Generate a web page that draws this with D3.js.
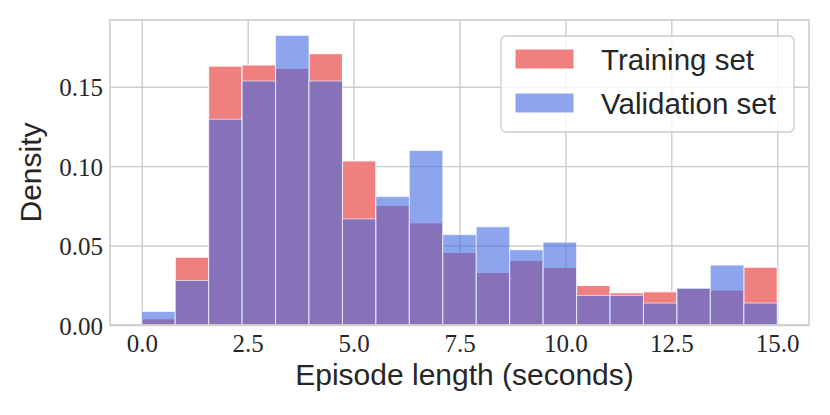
<!DOCTYPE html>
<meta charset="utf-8">
<script src="https://d3js.org/d3.v7.min.js"></script>
<style>
  body { margin: 0; background: #fff; }
</style>
<div id="chart"></div>
<script>

// bin edges (19 equal bins from 0 to 15 s)
var binEdges = [0, 0.789, 1.579, 2.368, 3.158, 3.947, 4.737, 5.526, 6.316, 7.105,
                7.895, 8.684, 9.474, 10.263, 11.053, 11.842, 12.632, 13.421, 14.211, 15.0];
// density per bin
var trainDensity = [0.0039, 0.0427, 0.1630, 0.1637, 0.1616, 0.1708, 0.1033, 0.0752, 0.0643, 0.0456,
                    0.0330, 0.0406, 0.0362, 0.0249, 0.0203, 0.0209, 0.0230, 0.0220, 0.0364];
var validDensity = [0.0085, 0.0280, 0.1295, 0.1536, 0.1823, 0.1536, 0.0668, 0.0808, 0.1098, 0.0569,
                    0.0618, 0.0473, 0.0521, 0.0186, 0.0186, 0.0138, 0.0232, 0.0377, 0.0138];
var xTicks = [0, 2.5, 5, 7.5, 10, 12.5, 15];
var yTicks = [0, 0.05, 0.10, 0.15];
var seriesNames = ["Training set", "Validation set"];

var W = 830, H = 415;
var plotL = 110, plotR = 809, plotT = 20, plotB = 325;

var svg = d3.select("#chart").append("svg")
  .attr("width", W)
  .attr("height", H);

var x = d3.scaleLinear().domain([-0.75, 15.75]).range([plotL, plotR]);
var y = d3.scaleLinear().domain([0, 0.192]).range([plotB, plotT]);

var gridColor = "#cccccc";
var sans = "'Liberation Sans', Arial, Helvetica, sans-serif";
var serif = "'Liberation Serif', 'Times New Roman', serif";

// grid lines
svg.append("g")
  .attr("transform", "translate(0," + plotB + ")")
  .call(d3.axisBottom(x).tickValues(xTicks).tickSize(-(plotB - plotT)).tickFormat(""))
  .call(function(g) {
    g.select(".domain").remove();
    g.selectAll("line").attr("stroke", gridColor).attr("stroke-width", 1.4);
  });
svg.append("g")
  .attr("transform", "translate(" + plotL + ",0)")
  .call(d3.axisLeft(y).tickValues(yTicks).tickSize(-(plotR - plotL)).tickFormat(""))
  .call(function(g) {
    g.select(".domain").remove();
    g.selectAll("line").attr("stroke", gridColor).attr("stroke-width", 1.4);
  });

// bars
var bins = d3.range(trainDensity.length);

svg.append("g").selectAll("rect")
  .data(bins)
  .enter().append("rect")
    .attr("x", function(i) { return x(binEdges[i]); })
    .attr("width", function(i) { return x(binEdges[i + 1]) - x(binEdges[i]); })
    .attr("y", function(i) { return y(trainDensity[i]); })
    .attr("height", function(i) { return y(0) - y(trainDensity[i]); })
    .attr("fill", "#f08080")
    .attr("stroke", "#ffffff")
    .attr("stroke-width", 1);

svg.append("g").selectAll("rect")
  .data(bins)
  .enter().append("rect")
    .attr("x", function(i) { return x(binEdges[i]); })
    .attr("width", function(i) { return x(binEdges[i + 1]) - x(binEdges[i]); })
    .attr("y", function(i) { return y(validDensity[i]); })
    .attr("height", function(i) { return y(0) - y(validDensity[i]); })
    .attr("fill", "rgb(65,105,225)")
    .attr("fill-opacity", 0.6)
    .attr("stroke", "#ffffff")
    .attr("stroke-opacity", 0.6)
    .attr("stroke-width", 1);

// frame
svg.append("rect")
  .attr("x", plotL).attr("y", plotT)
  .attr("width", plotR - plotL).attr("height", plotB - plotT)
  .attr("fill", "none")
  .attr("stroke", gridColor)
  .attr("stroke-width", 1.6);

// tick labels
svg.append("g")
  .attr("transform", "translate(0," + plotB + ")")
  .call(d3.axisBottom(x).tickValues(xTicks).tickSize(0).tickPadding(27).tickFormat(d3.format(".1f")))
  .call(function(g) {
    g.select(".domain").remove();
    g.selectAll("text")
      .attr("dy", 0)
      .attr("fill", "#262626")
      .style("font-family", serif)
      .style("font-size", "25px");
  });
svg.append("g")
  .attr("transform", "translate(" + plotL + ",0)")
  .call(d3.axisLeft(y).tickValues(yTicks).tickSize(0).tickPadding(7).tickFormat(d3.format(".2f")))
  .call(function(g) {
    g.select(".domain").remove();
    g.selectAll("text")
      .attr("dy", "0.36em")
      .attr("fill", "#262626")
      .style("font-family", serif)
      .style("font-size", "25px");
  });

// axis titles
svg.append("text")
  .attr("x", (plotL + plotR) / 2 + 5)
  .attr("y", 385)
  .attr("text-anchor", "middle")
  .attr("fill", "#262626")
  .style("font-family", sans)
  .style("font-size", "30px")
  .text("Episode length (seconds)");

svg.append("text")
  .attr("transform", "translate(41," + (plotT + plotB) / 2 + ") rotate(-90)")
  .attr("text-anchor", "middle")
  .attr("fill", "#262626")
  .style("font-family", sans)
  .style("font-size", "30px")
  .text("Density");

// legend
var legend = svg.append("g");
legend.append("rect")
  .attr("x", 501).attr("y", 36)
  .attr("width", 293).attr("height", 96)
  .attr("rx", 5)
  .attr("fill", "#ffffff")
  .attr("fill-opacity", 0.8)
  .attr("stroke", gridColor)
  .attr("stroke-width", 1.3);

var legendFill = ["#f08080", "rgba(65,105,225,0.6)"];
seriesNames.forEach(function(name, i) {
  var ly = 49 + i * 44;
  legend.append("rect")
    .attr("x", 515).attr("y", ly)
    .attr("width", 59).attr("height", 20)
    .attr("fill", legendFill[i])
    .attr("stroke", "#ffffff")
    .attr("stroke-width", 1);
  legend.append("text")
    .attr("x", 601)
    .attr("y", ly + 21)
    .attr("fill", "#262626")
    .style("font-family", sans)
    .style("font-size", "29.5px")
    .text(name);
});

</script>
